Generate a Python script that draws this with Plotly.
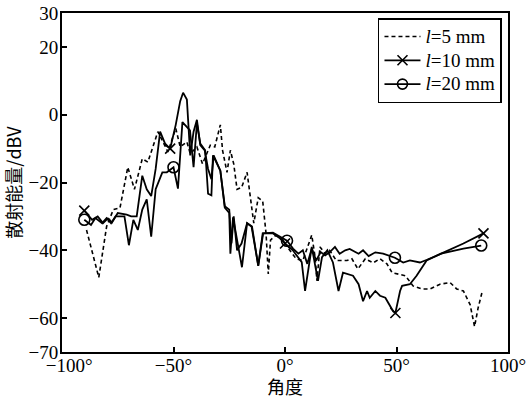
import plotly.graph_objects as go

# l = 5 mm (dashed)
ang5 = [-89, -83.5, -80, -77, -74, -70.5, -67.5, -64, -61.5, -57, -52.5, -49, -47, -44, -42.5,
        -39.5, -37, -33.5, -31.5, -29, -28, -26, -24.5, -23, -21.5, -19.5, -17, -15.5, -14, -12,
        -10, -8.5, -7.5, -6.5, -4, -1, 1, 5, 8, 12, 13.5, 14.3, 15.7, 18, 20, 23, 27.8, 30, 32.7,
        36, 39.5, 42.6, 45.7, 48, 50.7, 54, 57.4, 61.4, 65, 69.5, 74, 77, 80, 83, 85, 86.6, 88.5]
val5 = [-34, -48, -33, -28, -27.5, -15.5, -22, -13, -14, -5, -11, -4, -9.5, -8, -11.5,
        -9.5, -14.5, -9, -9.5, -3, -10.5, -17, -10.5, -14.5, -22, -21.5, -17, -25, -32, -24.5,
        -25.5, -35, -47, -37, -35.5, -37, -39, -42.5, -43, -35.5, -42, -49, -39, -41, -40, -43, -43, -42.5, -45.5,
        -42.5, -43.7, -42.5, -44, -46.6, -47, -47.5, -50.5, -51.4, -51.4, -50, -49.5, -51.4, -52, -56, -62.5, -57, -52]

# l = 10 mm (x markers)
ang10 = [-90, -86.5, -84, -81.6, -79.4, -77.6, -75, -71, -69, -66.5, -64, -62, -60, -58, -56,
         -53.5, -51.5, -49, -47, -45.7, -44, -42.5, -41, -39.5, -38, -36, -34.5, -33, -32, -29,
         -27, -25, -24, -23, -21.5, -19.5, -17, -15, -12, -10, -5.5, -1, 0, 3.5, 7.5, 9, 12, 14.8,
         16.6, 19, 21.5, 24, 26, 28, 30.5, 33, 35, 36.8, 38, 40.5, 42.6, 45, 48.5, 49.5, 51.6,
         52.5, 56, 59, 63.5, 70, 80, 89]
val10 = [-28.3, -31, -30, -32, -30.6, -31.8, -29, -29.5, -30, -30, -18, -22, -24, -16, -5,
         -9, -10, -3, 4, 6.5, 4.5, -12, -5, -1.5, -9, -10.5, -16, -19, -12, -16.5,
         -27, -28, -38, -30, -40, -38, -32, -33, -44.5, -35, -35, -37, -38, -40, -43.5, -52, -39, -49,
         -42, -40, -43.6, -52, -46.6, -47, -47.5, -50, -55, -52, -54, -52, -53.4, -54, -58, -58.5, -52,
         -50.5, -50, -47.5, -43, -41, -38, -35]
mark10 = [-90, -51.5, 0, 49.5, 89]

# l = 20 mm (circle markers)
ang20 = [-90, -87, -85, -82, -80, -78, -76, -72, -70, -68, -66, -64, -62, -60, -58, -55, -53,
         -50, -48, -46, -42.6, -41, -39.5, -38, -35.8, -34.5, -33, -32.3, -29, -27, -25, -24.5,
         -23.3, -21.5, -19.3, -17, -14.8, -12, -9.8, -5.4, -1.3, 0.9, 3.6, 6, 8, 10, 12, 14, 16,
         18, 20, 22.4, 24.5, 27, 29, 33, 35, 37.5, 40.5, 44, 49.3, 53, 56, 60.5, 63.7, 70, 80, 88]
val20 = [-31, -32.5, -30.5, -32, -30.5, -32, -30, -30, -38.5, -31, -34, -28, -25, -36, -22, -17, -17,
         -15.5, -21.8, -2.2, -4.6, -15.5, -2.5, -8.5, -10.5, -23.3, -23.8, -12, -16.5, -27.4, -29, -41,
         -30.3, -37, -45, -32, -33, -44.6, -35, -34.8, -36.2, -37.2, -39.5, -41, -40, -44, -39.5, -43, -40.5,
         -41.5, -40.6, -39, -41, -40, -39.6, -41, -40, -41.7, -40.6, -41, -42.2, -43.6, -43, -43.6, -42.8, -41, -39.5, -38.6]
mark20 = [-90, -50, 0.9, 49.3, 88]

ytick_vals = [30, 20, 0, -20, -40, -60, -70]
ytick_text = ["30", "20", "0", "\u221220", "\u221240", "\u221260", "\u221270"]
xtick_vals = [-100, -50, 0, 50, 100]
xtick_text = ["\u00a0\u00a0\u00a0\u2212100°", "\u221250°", "0°", "50°", "100°"]

series_names = ["<i>l</i>=5 mm", "<i>l</i>=10 mm", "<i>l</i>=20 mm"]

serif = "Liberation Serif, Times New Roman, serif"
cjk = "Noto Sans CJK SC"

def pick(xs, ys, marks):
    mx, my = [], []
    for m in marks:
        i = min(range(len(xs)), key=lambda k: abs(xs[k] - m))
        mx.append(xs[i]); my.append(ys[i])
    return mx, my

def big(t):
    return '<span style="font-size:19px">' + t + '</span>'

fig = go.Figure()

fig.add_trace(go.Scatter(x=ang5, y=val5, mode="lines", showlegend=False,
                         line=dict(color="black", width=1.6, dash="4px,3px")))
fig.add_trace(go.Scatter(x=ang10, y=val10, mode="lines", showlegend=False,
                         line=dict(color="black", width=1.8)))
mx, my = pick(ang10, val10, mark10)
fig.add_trace(go.Scatter(x=mx, y=my, mode="markers", showlegend=False,
                         marker=dict(symbol="x-thin-open", size=10, color="black",
                                     line=dict(color="black", width=1.6))))
fig.add_trace(go.Scatter(x=ang20, y=val20, mode="lines", showlegend=False,
                         line=dict(color="black", width=1.8)))
mx, my = pick(ang20, val20, mark20)
fig.add_trace(go.Scatter(x=mx, y=my, mode="markers", showlegend=False,
                         marker=dict(symbol="circle-open", size=11, color="black",
                                     line=dict(color="black", width=1.6))))

# legend entries
fig.add_trace(go.Scatter(x=[None], y=[None], mode="lines", name=big(series_names[0]),
                         line=dict(color="black", width=1.6, dash="4px,3px")))
fig.add_trace(go.Scatter(x=[None], y=[None], mode="lines+markers", name=big(series_names[1]),
                         line=dict(color="black", width=1.8),
                         marker=dict(symbol="x-thin-open", size=10, color="black",
                                     line=dict(color="black", width=1.6))))
fig.add_trace(go.Scatter(x=[None], y=[None], mode="lines+markers", name=big(series_names[2]),
                         line=dict(color="black", width=1.8),
                         marker=dict(symbol="circle-open", size=10, color="black",
                                     line=dict(color="black", width=1.6))))

fig.update_layout(
    width=527, height=399,
    margin=dict(l=62, r=19, t=13, b=47),
    paper_bgcolor="white", plot_bgcolor="white",
    font=dict(family=serif, size=19, color="black"),
    showlegend=True,
    legend=dict(x=0.9865, y=0.985, xanchor="right", yanchor="top",
                bgcolor="white", bordercolor="black", borderwidth=1.5,
                font=dict(family=serif, size=16), tracegroupgap=0,
                itemwidth=36),
    xaxis=dict(range=[-100, 100], tickvals=xtick_vals, ticktext=xtick_text,
               ticks="inside", ticklen=5, tickwidth=1.5, tickcolor="black",
               showline=True, linecolor="black", linewidth=2, mirror=True,
               showgrid=False, zeroline=False, automargin=False,
               ticklabelstandoff=-5,
               tickfont=dict(family=serif, size=19),
               title=dict(text="角度", font=dict(family=cjk, size=18), standoff=5)),
    yaxis=dict(range=[-70, 30], tickvals=ytick_vals, ticktext=ytick_text,
               ticks="inside", ticklen=5, tickwidth=1.5, tickcolor="black",
               showline=True, linecolor="black", linewidth=2, mirror=True,
               showgrid=False, zeroline=False, automargin=False,
               ticklabelstandoff=-2,
               tickfont=dict(family=serif, size=19),
               title=dict(text="散射能量/dBV", font=dict(family=cjk, size=18), standoff=4)),
)

# remove the default page margin so the figure sits at the window's top-left corner
fig.write_html("out.html", config={"displayModeBar": False},
               post_script="document.body.style.margin='0';")
